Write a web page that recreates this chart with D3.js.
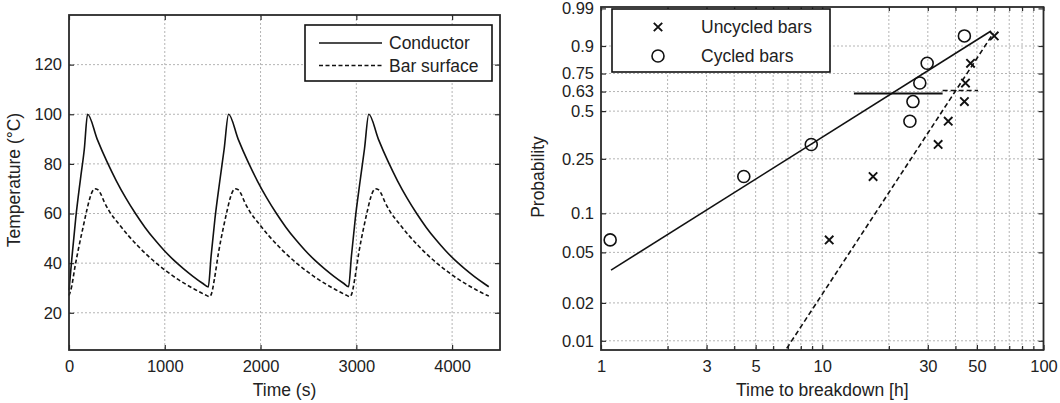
<!DOCTYPE html>
<html><head><meta charset="utf-8">
<script src="https://cdn.jsdelivr.net/npm/d3@7"></script>
<style>
body{margin:0;background:#fff;}
svg{display:block;font-family:"Liberation Sans",Arial,sans-serif;}
</style></head>
<body><svg id="c" width="1060" height="403"></svg>
<script>
// ---------- Left chart data (Time s, Temperature °C) ----------
const condTime = [0,30,70,120,160,194,294,394,494,594,694,794,894,994,1094,1194,1294,1394,1454,
  1484,1524,1574,1620,1666,1766,1866,1966,2066,2166,2266,2366,2466,2566,2666,2766,2866,2919,
  2949,2989,3039,3085,3130,3230,3330,3430,3530,3630,3730,3830,3930,4030,4130,4230,4330,4383];
const condTemp = [29,42,58,74,86,100,90.0,81.1,73.2,66.2,60.0,54.4,49.5,45.1,41.2,37.8,34.7,31.9,30.4,
  43,58,73,86,100,90.0,81.1,73.2,66.2,60.0,54.4,49.5,45.1,41.2,37.8,34.7,31.9,30.5,
  43,58,73,86,100,90.0,81.1,73.2,66.2,60.0,54.4,49.5,45.1,41.2,37.8,34.7,31.9,30.5];
const barTime = [0,30,60,100,150,190,220,245,270,300,330,370,420,520,620,720,820,920,1020,1120,1220,1320,1420,1470,
  1490,1520,1560,1610,1650,1685,1710,1735,1765,1795,1835,1885,1985,2085,2185,2285,2385,2485,2585,2685,2785,2885,2935,
  2955,2985,3025,3075,3115,3150,3175,3200,3230,3260,3300,3350,3450,3550,3650,3750,3850,3950,4050,4150,4250,4350,4383];
const barTemp = [27,31,38,46,55,62,66.5,69,70,69.6,68,64.5,61,55.8,51.1,46.9,43.1,39.7,36.7,33.9,31.5,29.3,27.3,26.5,
  28,34,44,54,61,66.5,69,70,69.6,68,64.5,61,55.8,51.1,46.9,43.1,39.7,36.7,33.9,31.5,29.3,27.3,26.5,
  28,34,44,54,61,66.5,69,70,69.6,68,64.5,61,55.8,51.1,46.9,43.1,39.7,36.7,33.9,31.5,29.3,27.3,26.8];
const tempXTicks = [0,1000,2000,3000,4000];
const tempYTicks = [20,40,60,80,100,120];
const tempLegend = ["Conductor","Bar surface"];

// ---------- Right chart data (Time to breakdown h, Probability) ----------
const cycledTime = [1.10,4.42,8.92,24.9,25.7,27.6,29.8,43.9];
const cycledProb = [0.0625,0.1875,0.3125,0.4375,0.5625,0.6875,0.8125,0.9375];
const uncycledTime = [10.75,16.97,33.4,37.1,43.9,44.4,46.8,59.9];
const uncycledProb = [0.0625,0.1875,0.3125,0.4375,0.5625,0.6875,0.8125,0.9375];
const cycledFitTime = [1.11,57.9];
const cycledFitProb = [0.0363,0.952];
const uncycledFitTime = [6.91,59.3];
const uncycledFitProb = [0.0087,0.9455];
const cycledScaleTime = [13.9,35.0];
const cycledScaleProb = [0.6167,0.6167];
const uncycledScaleTime = [35.0,50.6];
const uncycledScaleProb = [0.637,0.637];
const probTicks = [0.01,0.02,0.05,0.1,0.25,0.5,0.63,0.75,0.9,0.99];
const probTickLabels = ["0.01","0.02","0.05","0.1","0.25","0.5","0.63","0.75","0.9","0.99"];
const timeMajorTicks = [1,3,5,10,30,50,100];
const timeMinorTicks = [2,4,6,7,8,9,20,40,60,70,80,90];
const probLegend = ["Uncycled bars","Cycled bars"];

const svg = d3.select("#c");
const FRAME = "#2a2a2a", GRID = "#b4b4b4", TXT = "#222";
const tickFont = "16.5px", labFont = "17.5px";

function styleAxis(g){
  g.select(".domain").remove();
  g.selectAll(".tick line").attr("stroke",FRAME).attr("stroke-width",1.2);
  g.selectAll(".tick text").attr("fill",TXT).style("font-size",tickFont).style("font-family",'"Liberation Sans",Arial,sans-serif');
}

// ================= LEFT CHART =================
(function(){
  const L=69,R=500,T=15,B=350;
  const x = d3.scaleLinear().domain([0,4500]).range([L,R]);
  const y = d3.scaleLinear().domain([5,140]).range([B,T]);
  const g = svg.append("g");
  // grid
  g.selectAll(".gx").data(tempXTicks.filter(d=>d>0)).join("line")
    .attr("x1",d=>x(d)).attr("x2",d=>x(d)).attr("y1",T).attr("y2",B)
    .attr("stroke",GRID).attr("stroke-width",1).attr("stroke-dasharray","2,2");
  g.selectAll(".gy").data(tempYTicks).join("line")
    .attr("x1",L).attr("x2",R).attr("y1",d=>y(d)).attr("y2",d=>y(d))
    .attr("stroke",GRID).attr("stroke-width",1).attr("stroke-dasharray","2,2");
  // axes
  g.append("g").attr("transform",`translate(0,${B})`)
    .call(d3.axisBottom(x).tickValues(tempXTicks).tickSize(-5).tickPadding(10).tickFormat(d3.format("d"))).call(styleAxis);
  g.append("g").attr("transform",`translate(0,${T})`)
    .call(d3.axisTop(x).tickValues(tempXTicks).tickSize(-5).tickFormat("")).call(styleAxis);
  g.append("g").attr("transform",`translate(${L},0)`)
    .call(d3.axisLeft(y).tickValues(tempYTicks).tickSize(-5).tickPadding(7)).call(styleAxis);
  g.append("g").attr("transform",`translate(${R},0)`)
    .call(d3.axisRight(y).tickValues(tempYTicks).tickSize(-5).tickFormat("")).call(styleAxis);
  // lines
  const line = d3.line().x(d=>x(d[0])).y(d=>y(d[1])).curve(d3.curveMonotoneX);
  g.append("path").datum(condTime.map((t,i)=>[t,condTemp[i]])).attr("d",line)
    .attr("fill","none").attr("stroke","#111").attr("stroke-width",1.6);
  g.append("path").datum(barTime.map((t,i)=>[t,barTemp[i]])).attr("d",line)
    .attr("fill","none").attr("stroke","#111").attr("stroke-width",1.6).attr("stroke-dasharray","4,2.5");
  // frame
  g.append("rect").attr("x",L).attr("y",T).attr("width",R-L).attr("height",B-T)
    .attr("fill","none").attr("stroke",FRAME).attr("stroke-width",1.8);
  // legend
  const lg = g.append("g");
  lg.append("rect").attr("x",305).attr("y",25).attr("width",187).attr("height",56)
    .attr("fill","#fff").attr("stroke","#111").attr("stroke-width",1.6);
  const rows=[43,65.5];
  tempLegend.forEach((name,i)=>{
    lg.append("line").attr("x1",319).attr("x2",382).attr("y1",rows[i]).attr("y2",rows[i])
      .attr("stroke","#111").attr("stroke-width",1.6).attr("stroke-dasharray",i?"4,2.5":null);
    lg.append("text").attr("x",389).attr("y",rows[i]).attr("dy","0.36em").attr("fill",TXT)
      .style("font-size",labFont).text(name);
  });
  // titles
  g.append("text").attr("x",(L+R)/2).attr("y",396).attr("text-anchor","middle").attr("fill",TXT)
    .style("font-size",labFont).text("Time (s)");
  g.append("text").attr("transform","translate(14,180) rotate(-90)").attr("dy","0.36em")
    .attr("text-anchor","middle").attr("fill",TXT).style("font-size",labFont).text("Temperature (°C)");
})();

// ================= RIGHT CHART =================
(function(){
  const L=601,R=1043.5,T=7,B=350;
  const x = d3.scaleLog().domain([1,100]).range([L,R]);
  const wb = p => Math.log(-Math.log(1-p));
  const yw = d3.scaleLinear().domain([-4.77,1.553]).range([B,T]);
  const y = p => yw(wb(p));
  const g = svg.append("g");
  const allX = timeMajorTicks.concat(timeMinorTicks).sort((a,b)=>a-b);
  // grid
  g.selectAll(".gx").data(allX.filter(d=>d>1&&d<100)).join("line")
    .attr("x1",d=>x(d)).attr("x2",d=>x(d)).attr("y1",T).attr("y2",B)
    .attr("stroke",GRID).attr("stroke-width",1).attr("stroke-dasharray","2,2");
  g.selectAll(".gy").data(probTicks.filter(p=>p<0.99)).join("line")
    .attr("x1",L).attr("x2",R).attr("y1",d=>y(d)).attr("y2",d=>y(d))
    .attr("stroke",GRID).attr("stroke-width",1).attr("stroke-dasharray","2,2");
  // axes
  g.append("g").attr("transform",`translate(0,${B})`)
    .call(d3.axisBottom(x).tickValues(timeMajorTicks).tickSize(-5).tickPadding(10).tickFormat(d3.format("d"))).call(styleAxis);
  g.append("g").attr("transform",`translate(0,${B})`)
    .call(d3.axisBottom(x).tickValues(timeMinorTicks).tickSize(-4).tickFormat("")).call(styleAxis);
  g.append("g").attr("transform",`translate(0,${T})`)
    .call(d3.axisTop(x).tickValues(allX).tickSize(-4).tickFormat("")).call(styleAxis);
  const probW = probTicks.map(wb);
  g.append("g").attr("transform",`translate(${L},0)`)
    .call(d3.axisLeft(yw).tickValues(probW).tickSize(-5).tickPadding(7).tickFormat((d,i)=>probTickLabels[i])).call(styleAxis);
  g.append("g").attr("transform",`translate(${R},0)`)
    .call(d3.axisRight(yw).tickValues(probW).tickSize(-5).tickFormat("")).call(styleAxis);
  // clip
  svg.append("clipPath").attr("id","clipR").append("rect").attr("x",L).attr("y",T).attr("width",R-L).attr("height",B-T);
  const pg = g.append("g").attr("clip-path","url(#clipR)");
  const ln = d3.line().x(d=>x(d[0])).y(d=>y(d[1]));
  const pairs = (a,b)=>a.map((t,i)=>[t,b[i]]);
  pg.append("path").datum(pairs(cycledFitTime,cycledFitProb)).attr("d",ln)
    .attr("fill","none").attr("stroke","#111").attr("stroke-width",1.6);
  pg.append("path").datum(pairs(uncycledFitTime,uncycledFitProb)).attr("d",ln)
    .attr("fill","none").attr("stroke","#111").attr("stroke-width",1.6).attr("stroke-dasharray","5,3");
  pg.append("path").datum(pairs(cycledScaleTime,cycledScaleProb)).attr("d",ln)
    .attr("fill","none").attr("stroke","#111").attr("stroke-width",1.8);
  pg.append("path").datum(pairs(uncycledScaleTime,uncycledScaleProb)).attr("d",ln)
    .attr("fill","none").attr("stroke","#111").attr("stroke-width",1.6).attr("stroke-dasharray","5,3");
  // markers
  const cross = (sel,cx,cy,s)=>{
    sel.append("path").attr("d",`M${cx-s},${cy-s}L${cx+s},${cy+s}M${cx-s},${cy+s}L${cx+s},${cy-s}`)
      .attr("stroke","#111").attr("stroke-width",1.9).attr("fill","none");
  };
  g.selectAll(".circ").data(pairs(cycledTime,cycledProb)).join("circle")
    .attr("cx",d=>x(d[0])).attr("cy",d=>y(d[1])).attr("r",6)
    .attr("fill","none").attr("stroke","#111").attr("stroke-width",1.6);
  pairs(uncycledTime,uncycledProb).forEach(d=>cross(g,x(d[0]),y(d[1]),4.2));
  // frame
  g.append("rect").attr("x",L).attr("y",T).attr("width",R-L).attr("height",B-T)
    .attr("fill","none").attr("stroke",FRAME).attr("stroke-width",1.8);
  // legend
  const lg = g.append("g");
  lg.append("rect").attr("x",612).attr("y",9).attr("width",218).attr("height",63)
    .attr("fill","#fff").attr("stroke","#111").attr("stroke-width",1.6);
  const rows=[27,56];
  cross(lg,658,rows[0],4.2);
  lg.append("circle").attr("cx",658).attr("cy",rows[1]).attr("r",6)
    .attr("fill","none").attr("stroke","#111").attr("stroke-width",1.6);
  probLegend.forEach((name,i)=>{
    lg.append("text").attr("x",701).attr("y",rows[i]).attr("dy","0.36em").attr("fill",TXT)
      .style("font-size",labFont).text(name);
  });
  // titles
  g.append("text").attr("x",(L+R)/2).attr("y",396).attr("text-anchor","middle").attr("fill",TXT)
    .style("font-size",labFont).text("Time to breakdown [h]");
  g.append("text").attr("transform","translate(538,177) rotate(-90)").attr("dy","0.36em")
    .attr("text-anchor","middle").attr("fill",TXT).style("font-size",labFont).text("Probability");
})();
</script></body></html>
